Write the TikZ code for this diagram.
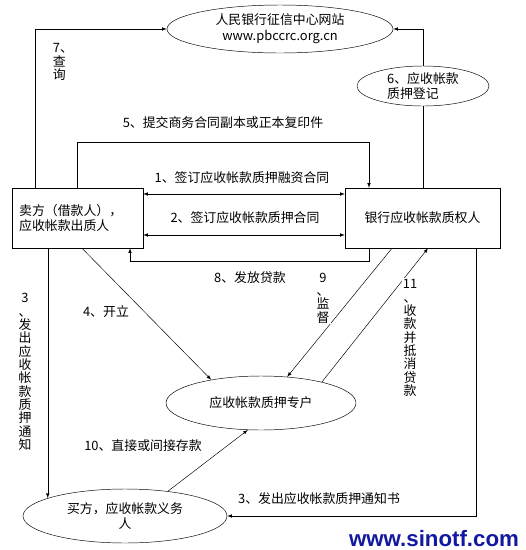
\documentclass[tikz,border=0pt]{standalone}
\usepackage{fontspec}
\setmainfont{Noto Sans CJK SC}
\newfontfamily\wmfont{Liberation Sans}
\usepackage{xcolor}
\usetikzlibrary{shapes.geometric}
\definecolor{wmblue}{RGB}{18,24,160}

\begin{document}
\begin{tikzpicture}[x=0.03cm, y=-0.03cm, >=latex,
    font=\fontsize{11pt}{13.5pt}\selectfont,
    box/.style={draw, rectangle, inner sep=0pt},
    oval/.style={draw, ellipse, inner sep=0pt, align=center},
    lbl/.style={fill=white, inner sep=1pt},
    vlbl/.style={lbl, align=center, font=\fontsize{11pt}{11.4pt}\selectfont}]
    \useasboundingbox (0,0) rectangle (526,550);

    % parties and accounts
    \node[oval, minimum width=6.78cm, minimum height=1.44cm] (site) at (280,29) {人民银行征信中心网站\\www.pbccrc.org.cn};
    \node[oval, align=left, minimum width=3.96cm, minimum height=1.2cm] (reg) at (423,86) {6、应收帐款\\质押登记};
    \node[box, align=left, text width=3.5cm, minimum width=3.93cm, minimum height=1.8cm] (seller) at (77.5,218) {卖方（借款人），\\应收帐款出质人};
    \node[box, minimum width=4.65cm, minimum height=1.8cm] (bank) at (422.5,218) {银行应收帐款质权人};
    \node[oval, minimum width=5.7cm, minimum height=1.62cm] (acct) at (261,403) {应收帐款质押专户};
    \node[oval, minimum width=6.12cm, minimum height=1.62cm] (buyer) at (125,516) {买方，应收帐款义务\\人};

    % connectors
    \draw[->] (35,0 |- seller.north) |- (site.west);
    \draw[->] (reg.north) |- (site.east);
    \draw (reg.south) -- (reg.south |- bank.north);
    \draw[->] (77,0 |- seller.north) -- ++(0,-46) -| (369,0 |- bank.north);
    \draw[<->] (seller.east |- 0,194) -- (bank.west |- 0,194);
    \draw[<->] (seller.east |- 0,235) -- (bank.west |- 0,235);
    \draw[->] (369,0 |- bank.south) -- ++(0,13) -| (130,0 |- seller.south);
    \draw[->] (82,0 |- seller.south) -- (acct.155);
    \draw[->] (392,0 |- bank.south) -- (acct.45);
    \draw[->] (acct.19) -- (428,0 |- bank.south);
    \draw[->] (buyer.30) -- (acct.244);
    \draw[->] (buyer.167 |- seller.south) -- (buyer.167);
    \draw[->] (476,0 |- bank.south) |- (buyer.east);

    % labels
    \node[vlbl, align=left] (l7) at (63,62) {7、\\查\\询};
    \node[lbl] (l5) at (223,123) {5、提交商务合同副本或正本复印件};
    \node[lbl] (l1) at (242,178) {1、签订应收帐款质押融资合同};
    \node[lbl] (l2) at (245,218) {2、签订应收帐款质押合同};
    \node[lbl] (l8) at (250,278) {8、发放贷款};
    \node[lbl] (l4) at (106,312) {4、开立};
    \node[vlbl] (l9) at (323,298) {9\\、\\监\\督};
    \node[vlbl] (l11) at (410,338) {11\\、\\收\\款\\并\\抵\\消\\贷\\款};
    \node[vlbl] (l3a) at (25,372) {3\\、\\发\\出\\应\\收\\帐\\款\\质\\押\\通\\知};
    \node[lbl] (l3b) at (319,499) {3、发出应收帐款质押通知书};
    \node[lbl] (l10) at (143,446) {10、直接或间接存款};

    \node[text=wmblue, font=\wmfont\fontsize{19pt}{19pt}\bfseries\selectfont] (wm) at (434,539) {www.sinotf.com};
\end{tikzpicture}
\end{document}
